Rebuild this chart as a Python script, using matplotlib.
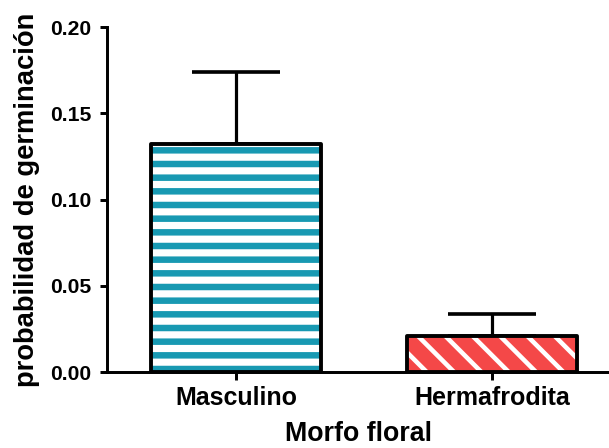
import matplotlib

matplotlib.use("Agg")
import matplotlib.pyplot as plt  # noqa: E402

# Datos: probabilidad media de germinación y error (solo hacia arriba)
morfos = ["Masculino", "Hermafrodita"]
medias = [0.132, 0.021]
errores = [0.042, 0.0125]

colores = ["#1899b2", "#f44848"]
tramas = ["-", "\\"]
grosor_trama = [6.3, 4.0]

DPI = 82
plt.rcParams["font.family"] = ["Liberation Sans", "DejaVu Sans"]
plt.rcParams["font.weight"] = "bold"

fig = plt.figure(figsize=(609 / DPI, 448 / DPI), dpi=DPI)
ax = fig.add_axes([0.1757, 0.1696, 0.8243, 0.7701])

posiciones = list(range(len(morfos)))
ancho = 0.664

# Barras de error (solo la parte superior), debajo de las barras
ax.errorbar(
    posiciones,
    medias,
    yerr=[[0] * len(errores), errores],
    fmt="none",
    ecolor="black",
    elinewidth=2.8,
    capsize=38.6,
    capthick=3.2,
    zorder=1,
)

# Relleno con trama blanca y luego el borde negro encima
for x, m, c, t, g in zip(posiciones, medias, colores, tramas, grosor_trama):
    with plt.rc_context({"hatch.linewidth": g}):
        ax.bar(x, m, width=ancho, color=c, edgecolor="white", linewidth=0,
               hatch=t, zorder=2)
    ax.bar(x, m, width=ancho, fill=False, edgecolor="black", linewidth=3.4,
           joinstyle="round", zorder=3)

ax.set_xlim(-0.504, 1.457)
ax.set_ylim(0, 0.20)
ax.set_yticks([0.0, 0.05, 0.10, 0.15, 0.20])
ax.set_yticklabels(["0.00", "0.05", "0.10", "0.15", "0.20"], fontsize=18.5, fontweight="bold")
ax.set_xticks(posiciones)
ax.set_xticklabels(morfos, fontsize=22, fontweight="bold")

ax.set_xlabel("Morfo floral", fontsize=23.5, fontweight="bold", labelpad=10)
ax.set_ylabel("probabilidad de germinación", fontsize=24, fontweight="bold", labelpad=9)

for lado in ["top", "right"]:
    ax.spines[lado].set_visible(False)
for lado in ["left", "bottom"]:
    ax.spines[lado].set_linewidth(2.6)
ax.tick_params(axis="y", width=2.6, length=6.5, pad=7)
ax.tick_params(axis="x", width=2.6, length=7, pad=5)

fig.savefig("out.png", dpi=DPI)
